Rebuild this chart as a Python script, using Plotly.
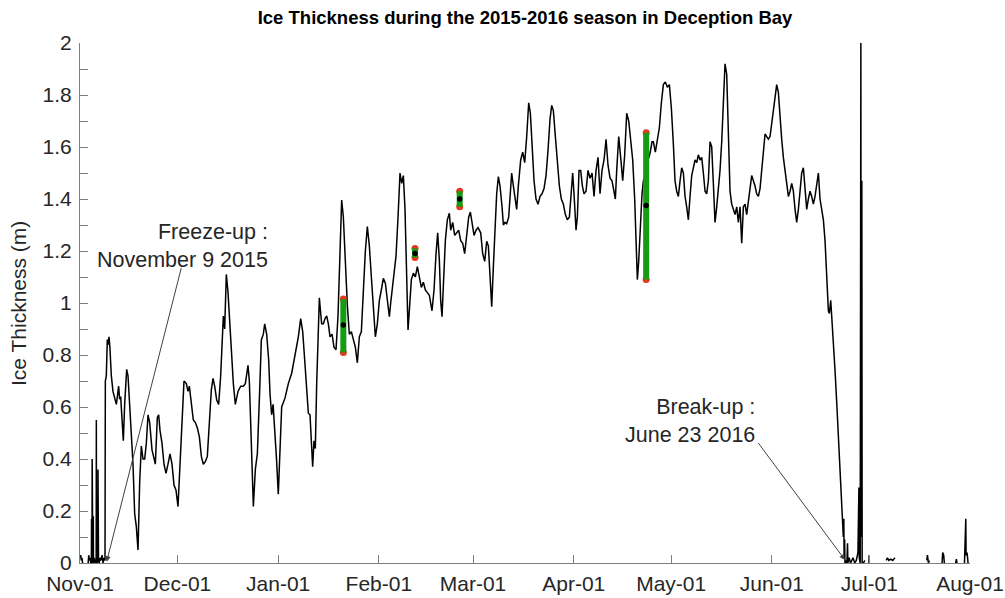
import pandas as pd
import plotly.graph_objects as go

SEASON_START = pd.Timestamp("2015-11-01")

# --- Ice thickness record (days elapsed since 2015-11-01, thickness in m; None = missing) ---
pre_freeze_days = [
    0.0, 0.2, 0.4, 0.6, 0.8, 1.6, 2.5, 2.7, 2.9, 3.1,
    3.3, 3.5, 3.55, 3.6, 3.7, 3.75, 3.8, 3.95, 4.05, 4.1,
    4.15, 4.4, 4.7, 4.98, 5.03, 5.08, 5.3, 5.5, 5.54, 5.58,
    5.7, 5.9, 6.2, 6.5, 6.8, 7.1, 7.4, 7.7,
]
pre_freeze_thick = [
    0.02, 0.03, 0.01, 0.02, 0.0, None, 0.0, 0.03, 0.01, 0.02,
    0.0, 0.0, 0.17, 0.01, 0.0, 0.40, 0.01, 0.0, 0.0, 0.18,
    0.0, 0.02, 0.0, 0.0, 0.55, 0.02, 0.0, 0.03, 0.36, 0.10,
    0.01, 0.0, 0.02, 0.01, 0.03, 0.0, 0.02, 0.01,
]

season_days = [
    7.80, 8.10, 8.41, 8.65, 8.93, 9.20, 9.65, 10.15, 10.67, 11.19,
    11.90, 12.20, 12.52, 13.03, 13.34, 13.75, 14.37, 14.78, 15.60, 16.32,
    16.83, 17.34, 17.86, 18.37, 18.88, 19.40, 19.91, 20.42, 20.94, 21.45,
    22.17, 22.78, 23.19, 23.81, 24.22, 24.63, 25.25, 25.86, 26.48, 27.09,
    27.71, 28.33, 28.94, 29.56, 30.17, 31.20, 32.02, 32.74, 33.25, 33.66,
    34.28, 34.89, 35.51, 36.12, 36.74, 37.36, 37.97, 38.59, 39.20, 39.82,
    40.43, 40.95, 41.46, 42.08, 42.69, 43.31, 43.72, 44.13, 44.54, 45.05,
    45.57, 46.08, 46.59, 47.21, 47.82, 48.65, 49.47, 50.29, 50.90, 51.31,
    51.72, 52.13, 52.55, 52.96, 53.37, 53.98, 54.60, 55.32, 55.83, 56.44,
    56.86, 57.47, 58.09, 58.50, 59.00, 59.45, 59.95, 60.50, 61.05, 61.60,
    62.09, 63.12, 64.14, 65.17, 66.19, 67.22, 67.94, 68.56, 69.07, 69.79,
    70.30, 70.81, 71.22, 71.63, 72.04, 72.45, 72.87, 73.48, 73.69, 73.89,
    74.40, 74.92, 75.43, 75.94, 76.46, 76.97, 77.59, 78.20, 78.82, 79.43,
    80.05, 80.56, 81.08, 81.59, 82.31, 82.92, 83.54, 84.15, 84.77, 85.39,
    86.00, 86.62, 87.23, 87.85, 88.46, 89.08, 89.70, 90.31, 90.93, 91.54,
    92.16, 92.77, 93.39, 94.01, 94.62, 95.24, 95.65, 96.26, 96.88, 97.29,
    97.91, 98.52, 99.04, 99.55, 100.06, 100.57, 100.99, 101.39, 102.01, 102.63,
    103.24, 103.86, 104.47, 105.09, 105.71, 106.32, 106.94, 107.55, 108.37, 108.99,
    109.61, 110.12, 110.63, 111.04, 111.45, 111.86, 112.48, 113.09, 113.71, 114.12,
    114.74, 115.35, 115.97, 116.58, 117.20, 117.82, 118.43, 119.05, 119.66, 120.18,
    120.69, 121.31, 121.92, 122.54, 123.36, 123.97, 124.59, 125.21, 125.72, 126.23,
    126.75, 127.26, 127.77, 128.28, 128.80, 129.31, 129.93, 130.34, 130.85, 131.36,
    131.98, 132.39, 132.90, 133.42, 133.93, 134.44, 134.95, 135.67, 136.29, 136.91,
    137.52, 138.14, 138.65, 139.16, 139.78, 140.39, 141.01, 141.63, 142.24, 142.86,
    143.47, 144.09, 144.70, 145.22, 145.73, 146.35, 146.96, 147.58, 148.19, 148.81,
    149.43, 150.04, 150.66, 151.27, 151.68, 152.09, 152.71, 153.12, 153.63, 154.15,
    154.66, 155.17, 155.79, 156.40, 157.02, 157.64, 158.25, 158.87, 159.48, 160.10,
    160.71, 161.33, 161.95, 162.56, 163.18, 163.79, 164.41, 164.82, 165.23, 165.85,
    166.46, 167.08, 167.69, 168.31, 168.93, 169.54, 170.16, 170.77, 171.18, 171.59,
    172.00, 172.41, 173.03, 173.44, 174.20, 174.88, 175.49, 176.11, 176.52, 177.13,
    177.75, 178.37, 178.98, 179.60, 180.21, 180.83, 181.45, 182.06, 182.68, 183.19,
    183.70, 184.22, 184.73, 185.24, 185.76, 186.27, 186.78, 187.29, 187.81, 188.32,
    188.83, 189.35, 189.86, 190.37, 190.89, 191.40, 191.91, 192.43, 192.94, 193.45,
    193.97, 194.48, 194.99, 195.50, 196.02, 196.53, 197.04, 197.56, 198.07, 198.58,
    199.10, 199.61, 200.12, 200.64, 201.15, 201.66, 202.18, 202.69, 203.20, 203.72,
    204.23, 204.74, 205.25, 205.77, 206.28, 206.79, 207.31, 207.82, 208.33, 208.85,
    209.36, 209.87, 210.39, 210.90, 211.41, 211.93, 212.44, 212.95, 213.46, 213.98,
    214.49, 215.00, 215.52, 216.03, 216.54, 217.06, 217.57, 218.08, 218.60, 219.11,
    219.62, 220.14, 220.65, 221.16, 221.67, 222.19, 222.70, 223.21, 223.73, 224.24,
    224.75, 225.27, 225.78, 226.29, 226.81, 227.32, 227.83, 228.35, 228.86, 229.37,
    229.89, 230.40, 230.71, 231.12, 231.42, 231.94, 232.45, 232.96, 233.48, 233.99,
    234.51, 235.00, 235.15, 235.25, 235.40, 235.50,
]
season_thick = [
    0.70, 0.72, 0.86, 0.84, 0.87, 0.83, 0.72, 0.66, 0.63, 0.61,
    0.68, 0.63, 0.64, 0.55, 0.47, 0.61, 0.745, 0.72, 0.56, 0.38,
    0.19, 0.14, 0.05, 0.31, 0.45, 0.40, 0.40, 0.46, 0.57, 0.54,
    0.435, 0.40, 0.38, 0.56, 0.57, 0.51, 0.46, 0.38, 0.345, 0.38,
    0.42, 0.38, 0.30, 0.28, 0.217, 0.486, 0.70, 0.69, 0.66, 0.68,
    0.60, 0.55, 0.54, 0.52, 0.486, 0.41, 0.38, 0.39, 0.41, 0.52,
    0.665, 0.71, 0.68, 0.627, 0.61, 0.72, 0.88, 0.95, 0.90, 1.11,
    1.04, 0.92, 0.80, 0.69, 0.61, 0.66, 0.68, 0.68, 0.69, 0.72,
    0.76, 0.70, 0.535, 0.36, 0.217, 0.36, 0.42, 0.665, 0.858, 0.88,
    0.92, 0.88, 0.78, 0.65, 0.57, 0.61, 0.52, 0.40, 0.265, 0.42,
    0.60, 0.635, 0.69, 0.73, 0.80, 0.87, 0.94, 0.89, 0.80, 0.67,
    0.576, 0.57, 0.435, 0.37, 0.47, 0.44, 0.69, 0.98, 1.02, 0.99,
    0.92, 0.92, 0.94, 0.95, 0.92, 0.87, 0.88, 0.83, 0.82, 0.95,
    1.23, 1.396, 1.33, 1.165, 0.99, 0.88, 0.89, 0.86, 0.83, 0.77,
    0.87, 0.89, 1.05, 1.20, 1.294, 1.22, 1.10, 0.97, 0.87, 0.92,
    1.01, 1.05, 1.095, 1.076, 1.01, 0.947, 1.00, 1.06, 1.14, 1.18,
    1.33, 1.50, 1.46, 1.49, 1.36, 1.14, 0.896, 0.97, 1.09, 1.115,
    1.10, 1.14, 1.10, 1.06, 1.08, 1.05, 1.04, 1.03, 0.97, 1.05,
    1.19, 1.27, 1.165, 1.01, 0.947, 1.05, 1.24, 1.32, 1.345, 1.28,
    1.31, 1.26, 1.27, 1.28, 1.24, 1.23, 1.19, 1.26, 1.33, 1.35,
    1.31, 1.26, 1.28, 1.29, 1.27, 1.19, 1.16, 1.237, 1.22, 1.117,
    0.986, 1.14, 1.29, 1.42, 1.486, 1.45, 1.37, 1.30, 1.31, 1.305,
    1.33, 1.41, 1.50, 1.45, 1.40, 1.36, 1.45, 1.55, 1.58, 1.54,
    1.64, 1.77, 1.73, 1.60, 1.47, 1.40, 1.38, 1.41, 1.42, 1.44,
    1.49, 1.588, 1.706, 1.76, 1.74, 1.64, 1.525, 1.45, 1.40, 1.38,
    1.34, 1.32, 1.33, 1.42, 1.50, 1.42, 1.28, 1.33, 1.51, 1.51,
    1.45, 1.42, 1.43, 1.51, 1.48, 1.50, 1.41, 1.51, 1.56, 1.42,
    1.51, 1.55, 1.63, 1.53, 1.48, 1.47, 1.42, 1.40, 1.51, 1.64,
    1.56, 1.47, 1.57, 1.73, 1.70, 1.63, 1.55, 1.40, 1.22, 1.09,
    1.16, 1.29, 1.42, 1.47, 1.50, 1.55, 1.576, 1.62, 1.62, 1.58,
    1.62, 1.675, 1.77, 1.84, 1.85, 1.83, 1.84, 1.75, 1.61, 1.47,
    1.43, 1.41, 1.47, 1.52, 1.50, 1.41, 1.37, 1.32, 1.41, 1.49,
    1.52, 1.55, 1.54, 1.57, 1.55, 1.56, 1.50, 1.43, 1.42, 1.47,
    1.62, 1.60, 1.46, 1.31, 1.37, 1.43, 1.51, 1.62, 1.78, 1.92,
    1.88, 1.62, 1.43, 1.38, 1.36, 1.34, 1.37, 1.31, 1.37, 1.23,
    1.37, 1.38, 1.34, 1.39, 1.45, 1.49, 1.47, 1.45, 1.42, 1.41,
    1.44, 1.52, 1.588, 1.65, 1.64, 1.63, 1.64, 1.69, 1.755, 1.806,
    1.84, 1.81, 1.70, 1.63, 1.56, 1.50, 1.46, 1.41, 1.43, 1.46,
    1.43, 1.36, 1.31, 1.36, 1.43, 1.50, 1.52, 1.42, 1.36, 1.40,
    1.43, 1.41, 1.38, 1.41, 1.45, 1.50, 1.40, 1.36, 1.32, 1.24,
    1.088, 0.97, 0.96, 1.01, 0.95, 0.86, 0.74, 0.62, 0.50, 0.36,
    0.22, 0.10, 0.17, 0.02, 0.09, 0.0,
]

post_break_days = [
    235.8, 236.1, 236.3, 236.4, 236.8, 237.2, 237.6, 238.0, 238.5, 239.0,
    239.5, 239.8, 239.9, 240.2, 240.4, 240.5, 240.7, 240.8, 241.2, 241.6,
    242.2, 242.9, 242.95, 243.0, 245.0, 248.2, 248.6, 249.0, 249.6, 250.2,
    250.9, 255.0, 260.7, 260.9, 261.2, 261.5, 263.0, 265.4, 265.6, 265.9,
    266.1, 268.0, 269.6, 269.8, 270.0, 271.0, 272.3, 272.5, 272.7, 272.8,
    273.1, 273.4,
]
post_break_thick = [
    0.01, 0.0, 0.076, 0.0, 0.02, 0.0, 0.01, 0.02, 0.0, 0.01,
    0.04, 0.29, 0.02, 0.0, 2.0, 0.10, 1.47, 0.0, 0.0, 0.01,
    None, 0.0, 0.03, 0.0, None, 0.01, 0.02, 0.01, 0.015, 0.01,
    0.02, None, 0.01, 0.03, 0.0, 0.01, None, 0.0, 0.04, 0.03,
    0.0, None, 0.0, 0.015, 0.0, None, 0.0, 0.06, 0.17, 0.03,
    0.04, 0.0,
]

# --- Manual drill-hole measurements: min / max range and mean (m) ---
drill_days = [81.07, 103.14, 116.9, 174.3]
drill_min = [0.81, 1.175, 1.37, 1.09]
drill_max = [1.015, 1.21, 1.43, 1.655]
drill_mean = [0.915, 1.19, 1.40, 1.375]

# --- Event annotations ---
FREEZE_UP_TEXT = "Freeze-up :<br>November 9 2015"
BREAK_UP_TEXT = "Break-up :<br>June 23 2016"


def to_dates(day_offsets):
    return [SEASON_START + pd.Timedelta(days=d) for d in day_offsets]


all_days = pre_freeze_days + season_days + post_break_days
all_thick = pre_freeze_thick + season_thick + post_break_thick
assert len(all_days) == len(all_thick)

FONT = "Liberation Sans, Arial, sans-serif"
TEXT_COLOR = "#262626"
AXIS_COLOR = "#7f7f7f"

fig = go.Figure()

fig.add_trace(go.Scatter(
    x=to_dates(all_days), y=all_thick, mode="lines",
    line=dict(color="black", width=1.5), connectgaps=False,
    hoverinfo="skip",
))

# range bars: red end caps underneath, green bar, black mean dot
drill_dates = to_dates(drill_days)
fig.add_trace(go.Scatter(
    x=drill_dates + drill_dates, y=drill_min + drill_max, mode="markers",
    marker=dict(color="#e2391f", size=7, line=dict(width=0)),
    hoverinfo="skip",
))
bar_x, bar_y = [], []
for d, lo, hi in zip(drill_dates, drill_min, drill_max):
    bar_x += [d, d, None]
    bar_y += [lo, hi, None]
fig.add_trace(go.Scatter(
    x=bar_x, y=bar_y, mode="lines",
    line=dict(color="#159b15", width=6), hoverinfo="skip",
))
fig.add_trace(go.Scatter(
    x=drill_dates, y=drill_mean, mode="markers",
    marker=dict(color="black", size=5.5, line=dict(width=0)),
    hoverinfo="skip",
))

arrow_style = dict(
    xref="x", yref="y", axref="x", ayref="y", text="", showarrow=True,
    arrowhead=2, arrowsize=1.1, arrowwidth=1, arrowcolor="#404040",
    standoff=0, startstandoff=0,
)
annotations = [
    dict(x="2015-11-09 05:00", y=0.005, ax="2015-12-02 07:00", ay=1.14, **arrow_style),
    dict(x="2016-06-23 12:00", y=0.012, ax="2016-05-27 12:00", ay=0.467, **arrow_style),
    dict(x="2015-12-29 12:00", y=1.22, xref="x", yref="y", text=FREEZE_UP_TEXT,
         showarrow=False, xanchor="right", yanchor="middle", align="right",
         font=dict(family=FONT, size=21.5, color=TEXT_COLOR)),
    dict(x="2016-05-27 07:00", y=0.546, xref="x", yref="y", text=BREAK_UP_TEXT,
         showarrow=False, xanchor="right", yanchor="middle", align="right",
         font=dict(family=FONT, size=21.5, color=TEXT_COLOR)),
    dict(x=-0.0697, y=0.5, xref="paper", yref="paper", text="Ice Thickness (m)",
         showarrow=False, textangle=-90, xanchor="center", yanchor="middle",
         font=dict(family=FONT, size=21, color=TEXT_COLOR)),
]

fig.update_layout(
    width=1005, height=598,
    margin=dict(l=80, r=35, t=43, b=35, autoexpand=False),
    paper_bgcolor="white", plot_bgcolor="white",
    showlegend=False,
    font=dict(family=FONT, size=21, color=TEXT_COLOR),
    title=dict(
        text="<b>Ice Thickness during the 2015-2016 season in Deception Bay</b>",
        x=0.5, xref="paper", xanchor="center",
        y=1 - 18 / 598, yref="container", yanchor="middle",
        font=dict(family=FONT, size=18.5, color="black"),
    ),
    annotations=annotations,
)

fig.update_xaxes(
    type="date", range=["2015-11-01", "2016-08-01"],
    tick0="2015-11-01", dtick="M1", tickformat="%b-%d",
    ticks="inside", ticklen=8, tickwidth=1, tickcolor=AXIS_COLOR,
    showline=True, linecolor=AXIS_COLOR, linewidth=1,
    showgrid=False, zeroline=False, automargin=False,
    ticklabelstandoff=2,
    tickfont=dict(family=FONT, size=21, color=TEXT_COLOR),
)
fig.update_yaxes(
    range=[0, 2], tick0=0, dtick=0.2,
    ticks="inside", ticklen=8, tickwidth=1, tickcolor=AXIS_COLOR,
    minor=dict(dtick=0.1, ticks="inside", ticklen=8, tickcolor=AXIS_COLOR),
    showline=True, linecolor=AXIS_COLOR, linewidth=1,
    showgrid=False, zeroline=False, automargin=False,
    ticklabelstandoff=3,
    tickfont=dict(family=FONT, size=21, color=TEXT_COLOR),
)

fig.write_html("out.html")
